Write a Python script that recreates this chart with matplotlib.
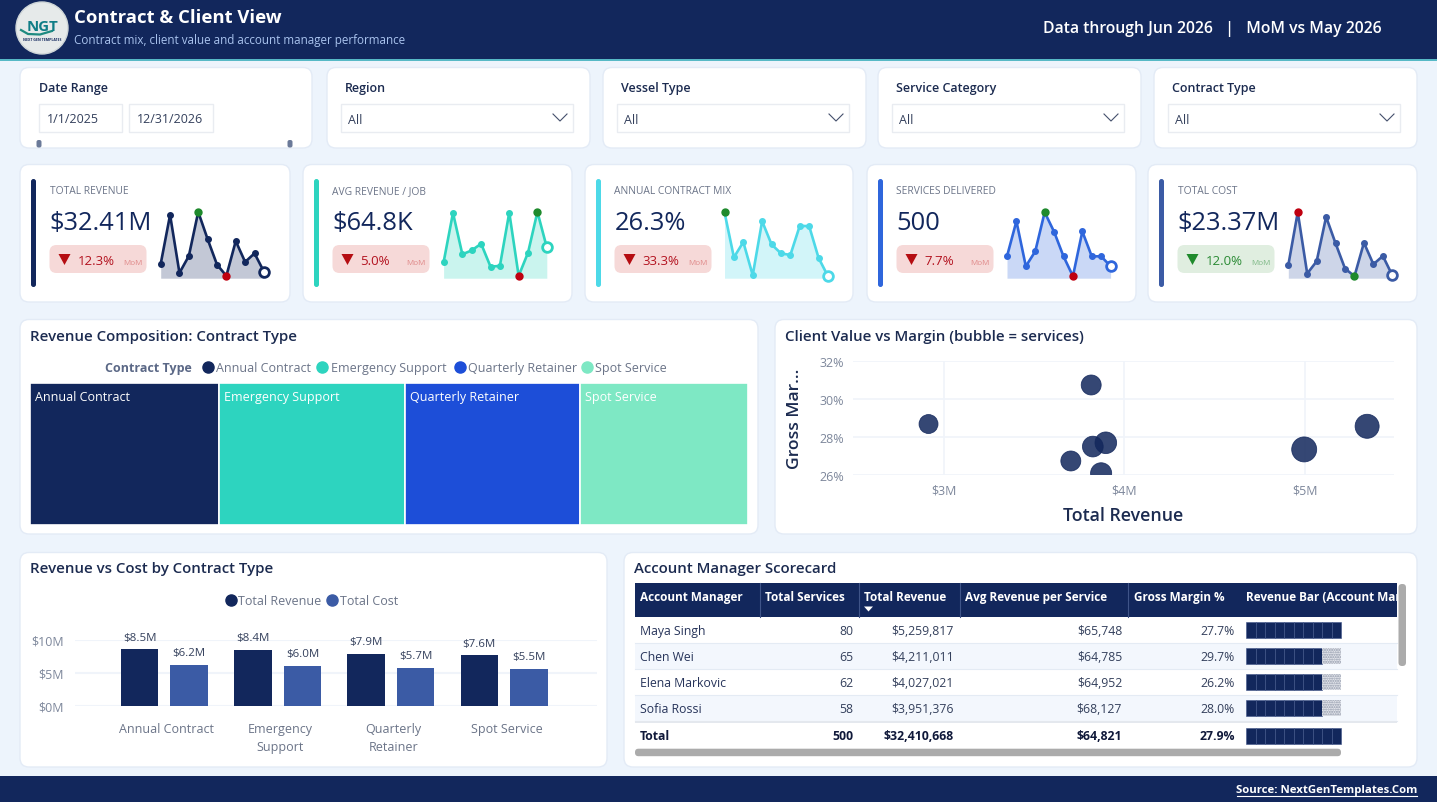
import matplotlib
matplotlib.use('Agg')
import matplotlib.pyplot as plt
from matplotlib.patches import FancyBboxPatch, Rectangle, Circle, Polygon
from matplotlib.transforms import ScaledTranslation

plt.rcParams['font.family'] = ['Open Sans', 'DejaVu Sans']

W, H = 1437, 803
NAVY = '#12275c'
BG = '#edf4fc'
INK = '#1c2b50'
GREY = '#6b7488'
GRID = '#f0f4fa'

# KPI cards
kpi_labels = ['TOTAL REVENUE', 'AVG REVENUE / JOB', 'ANNUAL CONTRACT MIX', 'SERVICES DELIVERED', 'TOTAL COST']
kpi_values = ['$32.41M', '$64.8K', '26.3%', '500', '$23.37M']
kpi_deltas = ['12.3%', '5.0%', '33.3%', '7.7%', '12.0%']
kpi_colors = ['#12275c', '#2dd4bf', '#4dd9e8', '#2f66dc', '#3b5ba5']

# monthly sparklines, read as index heights (0-200)
spark_revenue = [43, 191, 16, 67, 200, 118, 41, 7, 112, 49, 75, 20]
spark_avg_job = [48, 197, 72, 84, 104, 35, 37, 198, 7, 77, 200, 93]
spark_mix = [199, 63, 109, 9, 172, 102, 75, 70, 158, 157, 61, 6]
spark_services = [66, 172, 36, 81, 199, 140, 66, 6, 141, 66, 66, 36]
spark_cost = [39, 199, 14, 51, 185, 105, 29, 6, 107, 42, 67, 9]

# contract types
contract_types = ['Annual Contract', 'Emergency Support', 'Quarterly Retainer', 'Spot Service']
contract_wrapped = ['Annual Contract', 'Emergency\nSupport', 'Quarterly\nRetainer', 'Spot Service']
contract_colors = ['#12275c', '#2dd4bf', '#1d4ed8', '#7ee8c4']
contract_revenue = [8.52, 8.38, 7.90, 7.61]
contract_cost = [6.2, 6.0, 5.7, 5.5]

# clients
client_revenue = [2.915, 3.817, 3.898, 3.826, 3.704, 3.872, 4.998, 5.347]
client_margin = [28.69, 30.75, 27.7, 27.5, 26.74, 26.09, 27.35, 28.57]
client_services = [46, 51, 60, 55, 51, 57, 80, 74]

# scorecard
table_headers = ['Account Manager', 'Total Services', 'Total Revenue', 'Avg Revenue per Service', 'Gross Margin %', 'Revenue Bar (Account Manager)']
managers = ['Maya Singh', 'Chen Wei', 'Elena Markovic', 'Sofia Rossi']
mgr_services = ['80', '65', '62', '58']
mgr_revenue = ['$5,259,817', '$4,211,011', '$4,027,021', '$3,951,376']
mgr_avg = ['$65,748', '$64,785', '$64,952', '$68,127']
mgr_margin = ['27.7%', '29.7%', '26.2%', '28.0%']
mgr_blocks = [10, 8, 8, 8]
total_row = ['Total', '500', '$32,410,668', '$64,821', '27.9%']

fig = plt.figure(figsize=(W / 100, H / 100), dpi=100, facecolor=BG)

# page overlay in pixel coordinates
bg = fig.add_axes([0, 0, 1, 1], zorder=0)
bg.set_xlim(0, W)
bg.set_ylim(H, 0)
bg.axis('off')


def px_axes(x0, y0, x1, y1):
    ax = fig.add_axes([x0 / W, 1 - y1 / H, (x1 - x0) / W, (y1 - y0) / H], zorder=2)
    ax.patch.set_alpha(0)
    for s in ax.spines.values():
        s.set_visible(False)
    return ax


def px_font(px):
    return px * 0.72


def card(x0, y0, x1, y1):
    bg.add_patch(FancyBboxPatch((x0, y0), x1 - x0, y1 - y0, boxstyle='round,pad=0,rounding_size=9',
                                fc='white', ec='#e3ebf6', lw=1, zorder=1))


def text(x, y, s, px=13, color=INK, ha='left', va='center', weight='normal', **kw):
    # Open Sans sits a little high when centred
    return bg.text(x, y + 1.2, s, fontsize=px_font(px), color=color, ha=ha, va=va, fontweight=weight, zorder=5, **kw)


# header and footer
bg.add_patch(Rectangle((0, 0), W, 60, fc=NAVY, ec='none', zorder=1))
bg.add_patch(Rectangle((0, 59.5), W, 2, fc='#57b9c6', ec='none', zorder=1))
bg.add_patch(Rectangle((0, 776.7), W, 27, fc=NAVY, ec='none', zorder=1))
bg.add_patch(Circle((42, 29), 26, fc='#e6eaea', ec='#cfd6d8', lw=1, zorder=2))
text(43, 26, 'NGT', px=15, color='#0f7d86', ha='center', weight='bold')
bg.plot([21, 28, 40, 52], [31, 35, 35.5, 32], color='#1d8a80', lw=1.6, zorder=4)
text(42, 39, 'NEXT GEN TEMPLATES', px=3.5, color=NAVY, ha='center', weight='bold')
text(74, 17, 'Contract & Client View', px=18.5, color='white', weight='bold')
text(74, 39, 'Contract mix, client value and account manager performance', px=11.6, color='#a9c3ee')
text(1212, 28, 'Data through Jun 2026   |   MoM vs May 2026', px=15.7, color='white', ha='center', weight=600)
text(1417, 789, 'Source: NextGenTemplates.Com', px=11.4, color='white', ha='right', weight='bold')
bg.plot([1237, 1417], [796.5, 796.5], color='white', lw=0.8, zorder=5)

# filter row
card(20, 68.5, 312, 149)
text(39, 87, 'Date Range', px=12.5, weight=600)
for x0, x1, label in [(39, 122, '1/1/2025'), (129, 213, '12/31/2026')]:
    bg.add_patch(Rectangle((x0, 104.5), x1 - x0, 28.5, fc='white', ec='#e9ecf1', lw=1, zorder=2))
    text(x0 + 8, 118, label, px=12.5, color='#34405c')
for x in [39, 290]:
    bg.add_patch(FancyBboxPatch((x - 2.5, 141), 5, 7.5, boxstyle='round,pad=0,rounding_size=2', fc='#6b7a99', ec='none', zorder=2))

filter_cards = [(327, 590, 'Region'), (603, 866, 'Vessel Type'), (878, 1141, 'Service Category'), (1154, 1417, 'Contract Type')]
for x0, x1, label in filter_cards:
    card(x0, 68.5, x1, 149)
    text(x0 + 18, 87, label, px=12.5, weight=600)
    bg.add_patch(Rectangle((x0 + 13.5, 104.5), 232.5, 28.5, fc='white', ec='#e9ecf1', lw=1, zorder=2))
    text(x0 + 21, 119, 'All', px=12.5, color='#34405c')
    cx = x0 + 233
    bg.plot([cx - 7, cx, cx + 7], [115, 122, 115], color='#44506c', lw=0.8, zorder=3)

# KPI cards
kpi_boxes = [(20, 290), (303, 572), (585, 853), (867, 1136), (1148, 1417)]
kpi_sparks = [spark_revenue, spark_avg_job, spark_mix, spark_services, spark_cost]
spark_x = [(160.7, 263.9), (443.6, 546.8), (724.5, 828), (1007, 1110.6), (1288.3, 1392.3)]
kpi_good = [False, False, False, False, True]
for i, (x0, x1) in enumerate(kpi_boxes):
    card(x0, 165.5, x1, 303)
    c = kpi_colors[i]
    bg.add_patch(FancyBboxPatch((x0 + 11, 180), 5, 108, boxstyle='round,pad=0,rounding_size=2.5', fc=c, ec='none', zorder=2))
    left = x0 + 29.5
    text(left, 190, kpi_labels[i], px=10.2, color=GREY)
    text(left, 222, kpi_values[i], px=25.5, color=NAVY)
    pill_c, ink, soft = ('#e0eee0', '#2a8a34', '#7fb987') if kpi_good[i] else ('#f6d9d8', '#b3121f', '#e08a8a')
    bg.add_patch(FancyBboxPatch((left, 246), 97, 28, boxstyle='round,pad=0,rounding_size=7', fc=pill_c, ec='none', zorder=2))
    tri = [(left + 9, 255), (left + 21, 255), (left + 15, 266)]
    bg.add_patch(Polygon(tri, closed=True, fc='#1f8a2c' if kpi_good[i] else '#b50d12', ec='none', zorder=3))
    text(left + 28, 260, kpi_deltas[i], px=13.2, color=ink)
    text(left + 93, 262, 'MoM', px=8, color=soft, ha='right')

    # sparkline
    vals = kpi_sparks[i]
    sx0, sx1 = spark_x[i]
    ax = px_axes(sx0 - 8, 205, sx1 + 8, 285)
    ax.axis('off')
    # y: 0 at 279.3 px, 200 at 213 px
    ax.set_ylim(-17.5, 223.9)
    ax.set_xlim(-8 * 11 / (sx1 - sx0), 11 + 8 * 11 / (sx1 - sx0))
    xs = list(range(12))
    ax.fill_between(xs, vals, 0, color=c, alpha=0.25, lw=0)
    ax.plot(xs, vals, color=c, lw=1.9, marker='o', ms=4, clip_on=False)
    hi = vals.index(max(vals))
    lo = vals[:-1].index(min(vals[:-1]))
    hi_col, lo_col = ('#c00010', '#1f8a2c') if kpi_good[i] else ('#1f8a2c', '#c00010')
    ax.plot(hi, vals[hi], 'o', color=hi_col, ms=5, zorder=5, clip_on=False)
    if i != 2:
        ax.plot(lo, vals[lo], 'o', color=lo_col, ms=5, zorder=5, clip_on=False)
    ax.plot(11, vals[11], 'o', mfc='white', mec=c, mew=2, ms=7, zorder=6, clip_on=False)

# treemap card
card(20, 320.5, 758, 535)
text(30, 336, 'Revenue Composition: Contract Type', px=15, weight=600)
text(105, 367, 'Contract Type', px=12.5, color='#5b6886', weight='bold')
legend_x = [(208, 216), (322, 331), (460, 468), (587, 595)]
for (mx, tx), name, c in zip(legend_x, contract_types, contract_colors):
    bg.plot(mx, 368, 'o', color=c, ms=8, zorder=5)
    text(tx, 367, name, px=12.5, color=GREY)
tm = px_axes(30, 384, 748.5, 525.5)
tm.set_xlim(0, sum(contract_revenue))
tm.set_ylim(0, 1)
tm.set_xticks([])
tm.set_yticks([])
left = 0
for name, v, c in zip(contract_types, contract_revenue, contract_colors):
    tm.bar(left, 1, width=v, align='edge', color=c, edgecolor='white', linewidth=1.2)
    tm.annotate(name, (left, 1), xytext=(3.6, -9.5), textcoords='offset points', color='white',
                fontsize=px_font(12.5), va='center')
    left += v

# scatter card
card(775, 320.5, 1417, 535)
text(785, 336, 'Client Value vs Margin (bubble = services)', px=15, weight=600)
sc = px_axes(852.6, 362.3, 1394, 476)
sc.set_xlim(2.494, 5.496)
sc.set_ylim(26, 32)
sc.set_xticks([3, 4, 5])
sc.set_xticklabels(['$3M', '$4M', '$5M'])
sc.set_yticks([26, 28, 30, 32])
sc.set_yticklabels(['26%', '28%', '30%', '32%'])
sc.grid(True, color=GRID, lw=1.2)
sc.set_axisbelow(True)
sc.tick_params(length=0, labelsize=px_font(12.5), labelcolor='#7d879b', pad=6)
sc.scatter(client_revenue, client_margin, s=[v * 4.04 for v in client_services],
           color=NAVY, alpha=0.85, edgecolor=NAVY, linewidth=0.6, zorder=3)
text(1123, 515, 'Total Revenue', px=17.8, ha='center', weight=600)
text(795, 418, 'Gross Mar...', px=17.5, ha='center', rotation=90, weight=600)

# bar card
card(20, 553.5, 607, 768)
text(30, 568, 'Revenue vs Cost by Contract Type', px=15, weight=600)
bg.plot(231, 601, 'o', color=NAVY, ms=8, zorder=5)
text(238, 600, 'Total Revenue', px=12.5, color=GREY)
bg.plot(332, 601, 'o', color='#3b5ba5', ms=8, zorder=5)
text(340, 600, 'Total Cost', px=12.5, color=GREY)
bar_ax = px_axes(75.3, 640.7, 597, 706.7)
bar_ax.set_xlim(-0.786, 3.82)
bar_ax.set_ylim(0, 10)
xs = range(len(contract_types))
rev_bars = bar_ax.bar([x - 0.219 for x in xs], contract_revenue, width=0.331, color=NAVY, zorder=3)
cost_bars = bar_ax.bar([x + 0.219 for x in xs], contract_cost, width=0.331, color='#3b5ba5', zorder=3)
for bars in (rev_bars, cost_bars):
    for b in bars:
        bar_ax.annotate('${:.1f}M'.format(b.get_height()), (b.get_x() + b.get_width() / 2, b.get_height()),
                        xytext=(0, 5), textcoords='offset points', ha='center', va='bottom',
                        fontsize=px_font(11.5), color='#34405c', annotation_clip=False)
bar_ax.set_yticks([0, 5, 10])
bar_ax.set_yticklabels(['$0M', '$5M', '$10M'])
bar_ax.set_xticks(list(xs))
bar_ax.set_xticklabels(contract_wrapped, linespacing=1.5)
bar_ax.grid(True, axis='y', color=GRID, lw=1.5)
bar_ax.set_axisbelow(True)
bar_ax.tick_params(axis='y', length=0, labelsize=px_font(12.5), labelcolor='#7d879b', pad=8)
bar_ax.tick_params(axis='x', length=0, labelsize=px_font(12.5), labelcolor=GREY, pad=11.5)
# category labels sit slightly right of the group centres
for lab in bar_ax.get_xticklabels():
    lab.set_transform(lab.get_transform() + ScaledTranslation(2.3 / 100, 0, fig.dpi_scale_trans))

# table card
card(624, 553.5, 1417, 768)
text(634, 568, 'Account Manager Scorecard', px=15, weight=600)
tbl_x0, tbl_x1 = 634.7, 1397
bg.add_patch(Rectangle((tbl_x0, 584), tbl_x1 - tbl_x0, 33.5, fc=NAVY, ec='none', zorder=2))
clip = Rectangle((tbl_x0, 584), tbl_x1 - tbl_x0, 33.5, transform=bg.transData)
header_x = [640, 765, 863.8, 965, 1133.7, 1246]
for hx, name in zip(header_x, table_headers):
    t = text(hx, 596, name, px=11.8, color='white', weight='bold')
    t.set_clip_path(clip)
    t.set_clip_on(True)
for sx in [759.7, 858.7, 959.7, 1127.5]:
    bg.plot([sx, sx], [584, 617.5], color='#3f5488', lw=0.8, zorder=3)
bg.add_patch(Polygon([(864, 607.5), (873, 607.5), (868.5, 612.5)], closed=True, fc='white', ec='none', zorder=4))

right_x = [853, 953.6, 1122, 1234.7]
row_h = 26
bar_left, block_w = 1246, 9.5
for r, name in enumerate(managers):
    y0 = 617.5 + r * row_h
    yc = y0 + 13.2
    if r % 2 == 1:
        bg.add_patch(Rectangle((tbl_x0, y0), tbl_x1 - tbl_x0, row_h, fc='#f3f7fd', ec='none', zorder=2))
    bg.plot([tbl_x0, tbl_x1], [y0 + row_h, y0 + row_h], color='#e4ebf4', lw=0.8, zorder=3)
    text(640, yc - 0.5, name, px=12.3, color='#27345a')
    row_vals = [mgr_services[r], mgr_revenue[r], mgr_avg[r], mgr_margin[r]]
    for rx, v in zip(right_x, row_vals):
        text(rx, yc - 0.5, v, px=12.3, color='#34405c', ha='right')
    for b in range(10):
        if b < mgr_blocks[r]:
            bg.add_patch(Rectangle((bar_left + b * block_w, yc - 8), block_w, 16, fc=NAVY, ec='#3f5488', lw=0.4, zorder=3))
        else:
            bg.add_patch(Rectangle((bar_left + b * block_w, yc - 8), block_w, 16, fc='#e6e8ee', ec='#8f97a8',
                                   hatch='.......', lw=0, zorder=3))

bg.add_patch(Rectangle((tbl_x0, 721.5), tbl_x1 - tbl_x0, 2, fc='#e4e8ee', ec='none', zorder=3))
for x, v, ha in zip([640] + right_x, total_row, ['left'] + ['right'] * 4):
    text(x, 735, v, px=12.3, color='#10193a', ha=ha, weight='bold')
for b in range(10):
    bg.add_patch(Rectangle((bar_left + b * block_w, 729), block_w, 16, fc=NAVY, ec='#3f5488', lw=0.4, zorder=3))

# scrollbars
bg.add_patch(FancyBboxPatch((1398.5, 585), 7.5, 82, boxstyle='round,pad=0,rounding_size=3.5', fc='#ababab', ec='none', zorder=3))
bg.add_patch(FancyBboxPatch((635, 749.7), 706, 7.5, boxstyle='round,pad=0,rounding_size=3.5', fc='#ababab', ec='none', zorder=3))

plt.savefig('out.png', dpi=100, facecolor=BG)
